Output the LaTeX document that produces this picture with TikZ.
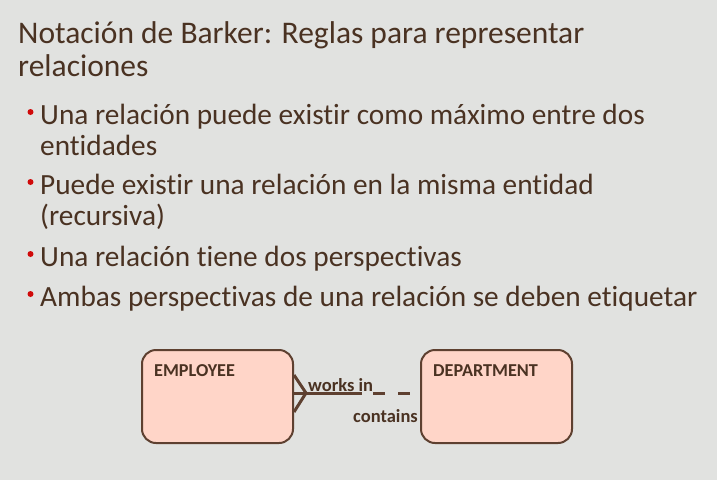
\documentclass[tikz,border=0pt]{standalone}
\usepackage{fontspec}
\setmainfont{Carlito}[Ligatures=NoCommon]
\usetikzlibrary{positioning}
\definecolor{slidebg}{RGB}{225,226,224}
\definecolor{slidetext}{RGB}{74,50,34}
\definecolor{bulletred}{RGB}{208,10,10}
\definecolor{entityfill}{RGB}{255,213,200}
\definecolor{entityline}{RGB}{94,64,48}

\begin{document}
\begin{tikzpicture}[x=1pt,y=-1pt,
  title/.style={anchor=base west,inner sep=0pt,align=left,text=slidetext,font=\fontsize{31.5}{33}\selectfont},
  item/.style={anchor=base west,inner sep=0pt,align=left,text=slidetext,font=\fontsize{29.3}{31}\selectfont},
  dot/.style={circle,fill=bulletred,inner sep=0pt,minimum size=6pt},
  entity/.style={draw=entityline,fill=entityfill,line width=2pt,rounded corners=14pt,minimum width=151pt,minimum height=93pt},
  ename/.style={anchor=north west,inner sep=0pt,text=slidetext,font=\bfseries\fontsize{18.2}{21}\selectfont},
  rel/.style={draw=entityline,line width=3pt},
  rolename/.style={inner sep=0pt,text=slidetext,font=\bfseries\fontsize{18.5}{21}\selectfont}]
  \fill[slidebg] (0,0) rectangle (717,480);
  \useasboundingbox (0,0) rectangle (717,480);

  % title
  \node[title](heading) at (18,76){Notación de Barker: Reglas para representar\\relaciones};

  % rules
  \node[dot](b1) at (30.5,112){};
  \node[item](r1) at (40,155){Una relación puede existir como máximo entre dos\\entidades};
  \node[dot](b2) at (30.5,182){};
  \node[item](r2) at (40,225){Puede existir una relación en la misma entidad\\(recursiva)};
  \node[dot](b3) at (30.5,254){};
  \node[item](r3) at (40,266){Una relación tiene dos perspectivas};
  \node[dot](b4) at (30.5,294){};
  \node[item](r4) at (40,306){Ambas perspectivas de una relación se deben etiquetar};

  % entities
  \node[entity](emp) at (217.5,396.5){};
  \node[ename](empname) at ([xshift=13pt,yshift=-15.5pt]emp.north west){EMPLOYEE};
  \node[entity](dept) at (496.5,396.5){};
  \node[ename](deptname) at ([xshift=13pt,yshift=-15.5pt]dept.north west){DEPARTMENT};

  % relationship
  \coordinate (foot) at (306,393);
  \coordinate (mid) at (362,393);
  \draw[rel] (emp.east |- 0,375) -- (foot) -- (emp.east |- 0,412);
  \draw[rel] (emp.east |- foot) -- (mid);
  \draw[rel,dash pattern=on 12pt off 13pt,dash phase=14pt] (mid) -- (dept.west |- mid);
  \node[rolename,anchor=base west](worksin) at (308,391){works in};
  \node[rolename,anchor=base east](contains) at (418,422){contains};
\end{tikzpicture}
\end{document}
